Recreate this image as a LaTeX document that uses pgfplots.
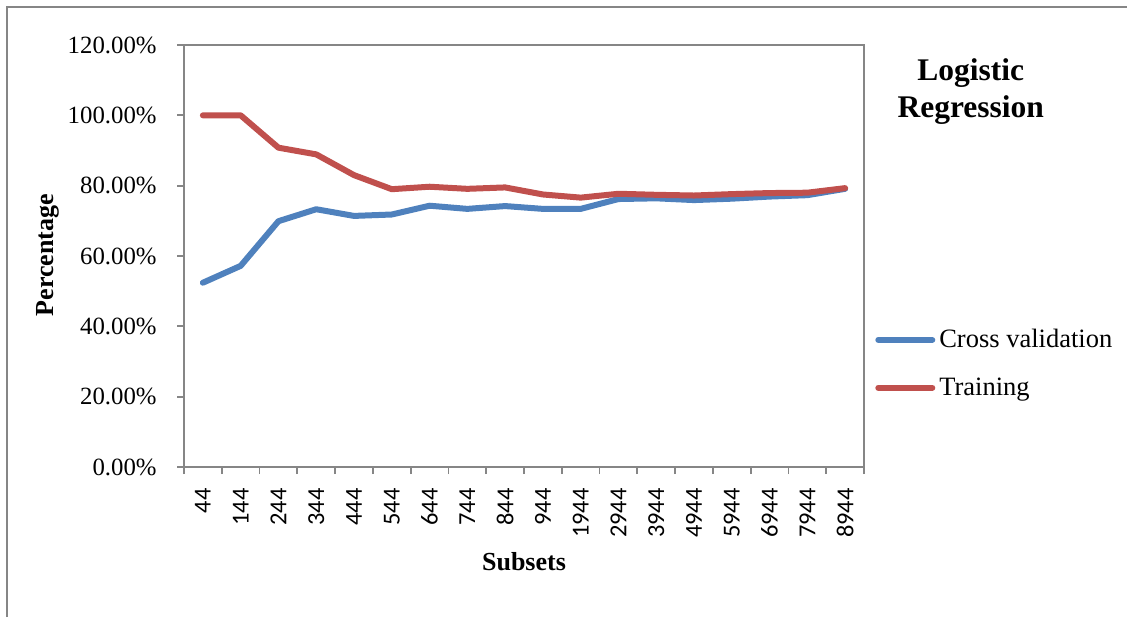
\documentclass[border=0pt]{standalone}
\usepackage{pgfplots}
\pgfplotsset{compat=1.18}
\usepackage{fontspec}
\setmainfont{Liberation Serif}
\newfontfamily\tickfont{Carlito}
\definecolor{cvblue}{HTML}{4F81BD}
\definecolor{trred}{HTML}{C0504D}
\definecolor{axgray}{RGB}{134,134,134}
\begin{document}
\begin{tikzpicture}
\useasboundingbox (0,0) rectangle (563.5pt,308.5pt);
\draw[axgray, line width=1pt] (3.5pt,0pt) -- (3.5pt,305.5pt);
\draw[axgray, line width=1pt] (3pt,305pt) -- (563.5pt,305pt);
\begin{axis}[
  at={(92pt,75pt)}, anchor=south west,
  scale only axis, width=340pt, height=211pt,
  xmin=-0.5, xmax=17.5, ymin=0, ymax=120,
  xtick={0,...,17},
  xticklabels={44,144,244,344,444,544,644,744,844,944,1944,2944,3944,4944,5944,6944,7944,8944},
  minor xtick={-0.5,0.5,...,17.5},
  major x tick style={draw=none},
  minor tick length=3.5pt,
  ytick={0,20,...,120},
  major tick length=3.5pt,
  tick align=outside,
  xtick pos=lower, ytick pos=left,
  axis line style={axgray, line width=0.9pt},
  every tick/.style={axgray, line width=0.9pt},
  /pgf/number format/assume math mode=true,
  yticklabel={\pgfmathprintnumber[fixed,fixed zerofill,precision=2]{\tick}\%},
  yticklabel style={font=\fontsize{12.4pt}{14pt}\selectfont, anchor=east, inner sep=0pt, xshift=-10pt},
  xticklabel style={font=\tickfont\fontsize{12.2pt}{14pt}\selectfont, rotate=90, anchor=east, inner sep=0pt, xshift=-7pt},
  xlabel={\textbf{Subsets}},
  xlabel style={font=\fontsize{13pt}{15pt}\selectfont, at={(axis description cs:0.5,-0.225)}, anchor=center},
  ylabel={\textbf{Percentage}},
  ylabel style={font=\fontsize{13pt}{15pt}\selectfont, at={(axis description cs:-0.2,0.502)}, anchor=center, rotate=0},
  legend style={at={(axis description cs:1.016,0.245)}, anchor=west, draw=none, fill=none,
    font=\fontsize{13.25pt}{15pt}\selectfont, row sep=9.5pt, inner sep=0pt,
    /tikz/every even column/.append style={column sep=0pt}},
  legend cell align=left,
  legend image code/.code={\draw[#1, line width=3pt, line cap=round] (0pt,0pt) -- (27pt,0pt);},
  clip=false,
]
\addplot[cvblue, line width=3pt, line cap=round, line join=round] coordinates {
(0,52.4) (1,57.2) (2,69.9) (3,73.3) (4,71.4) (5,71.8) (6,74.3) (7,73.4) (8,74.2)
(9,73.4) (10,73.4) (11,76.2) (12,76.4) (13,75.9) (14,76.3) (15,76.9) (16,77.3) (17,79.1)};
\addlegendentry{Cross validation}
\addplot[trred, line width=3pt, line cap=round, line join=round] coordinates {
(0,100) (1,100) (2,90.8) (3,88.9) (4,83.0) (5,79.0) (6,79.7) (7,79.1) (8,79.5)
(9,77.5) (10,76.6) (11,77.7) (12,77.4) (13,77.2) (14,77.6) (15,77.9) (16,78.0) (17,79.3)};
\addlegendentry{Training}
\node[font=\bfseries\fontsize{15.75pt}{18.5pt}\selectfont, align=center] at (axis description cs:1.157,0.890) {Logistic\\Regression};
\end{axis}
\end{tikzpicture}
\end{document}
